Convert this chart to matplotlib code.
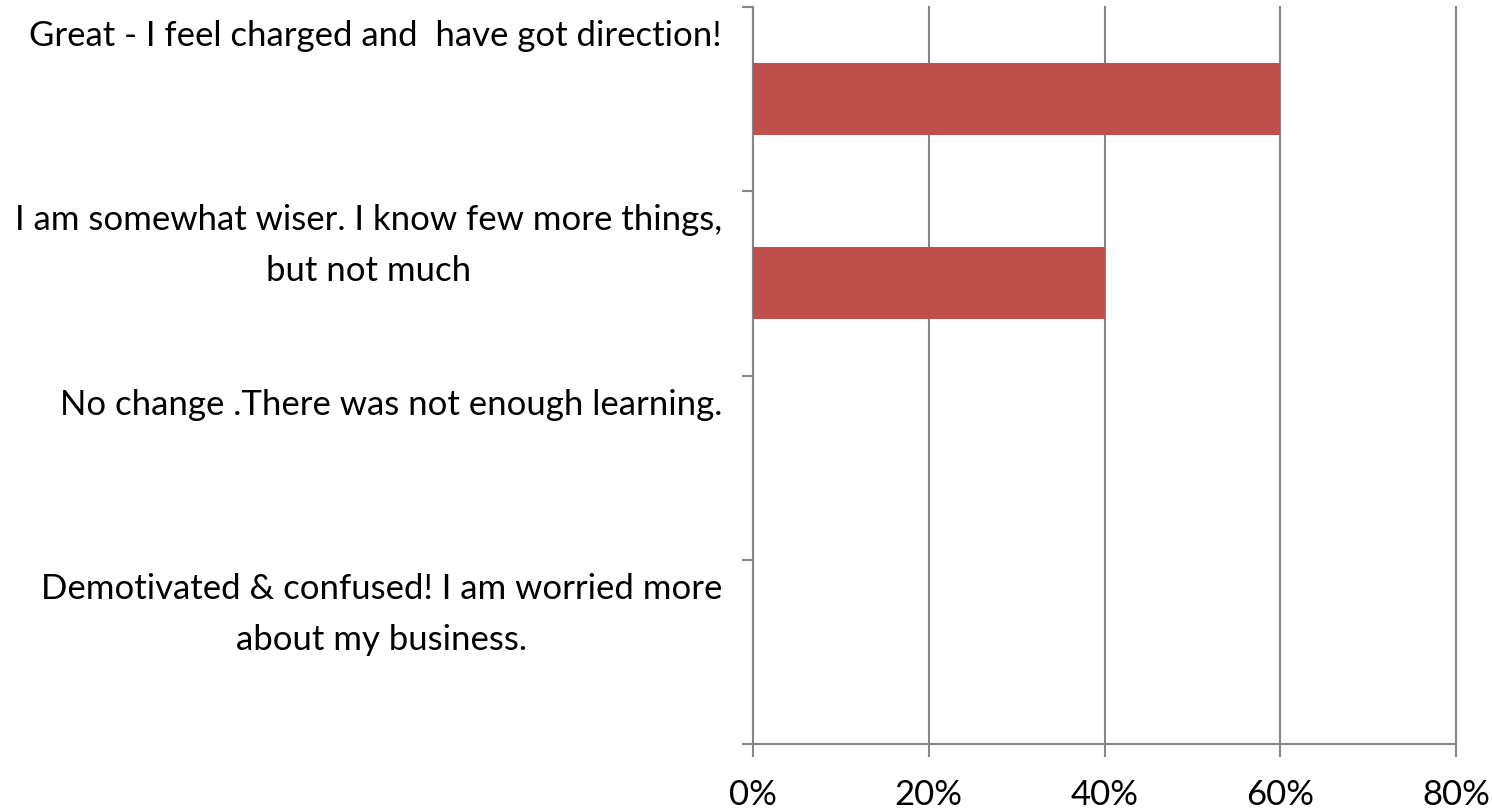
import matplotlib.pyplot as plt
from matplotlib.ticker import PercentFormatter

plt.rcParams['font.family'] = ['Lato', 'DejaVu Sans']

# Survey answers and share of respondents
answers = [
    'Great - I feel charged and  have got direction!',
    'I am somewhat wiser. I know few more things,\nbut not much',
    'No change .There was not enough learning.',
    'Demotivated & confused! I am worried more\nabout my business.',
]
shares = [0.60, 0.40, 0.0, 0.0]
x_ticks = [0.0, 0.2, 0.4, 0.6, 0.8]

bar_color = '#C0504D'
axis_color = '#868686'

fig = plt.figure(figsize=(14.92, 8.12), dpi=100)
ax = fig.add_axes([0.5047, 0.0825, 0.4712, 0.9076])

positions = list(range(len(answers)))
ax.barh(positions, shares, height=0.39, color=bar_color, zorder=3)

ax.set_ylim(len(answers) - 0.5, -0.5)
ax.set_xlim(0, 0.8)

# Category labels hang from the top of each band
ax.set_yticks([])
for pos, text in zip(positions, answers):
    ax.text(-0.044, pos - 0.5 + 0.066, text, ha='right', va='top',
            multialignment='center', linespacing=1.72, fontsize=25,
            color='black', transform=ax.get_yaxis_transform())

# Band separators on the category axis
ax.set_yticks([p - 0.5 for p in positions] + [len(answers) - 0.5], minor=True)
ax.tick_params(axis='y', which='minor', length=8, width=1.5, color=axis_color)

ax.set_xticks(x_ticks)
ax.xaxis.set_major_formatter(PercentFormatter(1.0, decimals=0))
ax.tick_params(axis='x', length=9.5, width=1.5, color=axis_color,
               pad=15, labelsize=25)

ax.grid(axis='x', color=axis_color, linewidth=1.5, zorder=1)
for line in ax.xaxis.get_gridlines():
    line.set_clip_on(False)

for side in ['top', 'right']:
    ax.spines[side].set_visible(False)
for side in ['left', 'bottom']:
    ax.spines[side].set_color(axis_color)
    ax.spines[side].set_linewidth(1.5)

fig.savefig('out.png', dpi=100)
